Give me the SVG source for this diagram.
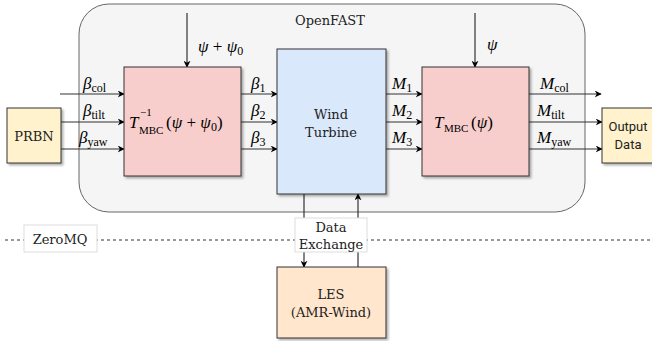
<svg xmlns="http://www.w3.org/2000/svg" width="652" height="341" viewBox="0 0 652 341">
<defs>
<marker id="ah" viewBox="0 0 10 10" refX="9" refY="5" markerWidth="7" markerHeight="7" markerUnits="userSpaceOnUse" orient="auto"><path d="M0,0 L10,5 L0,10 L3,5 Z" fill="#000"/></marker>
<filter id="sh" x="-10%" y="-10%" width="130%" height="130%"><feDropShadow dx="2" dy="2" stdDeviation="0.8" flood-color="#000" flood-opacity="0.3"/></filter>
</defs>
<style>
.box{stroke:#333;stroke-width:1;filter:url(#sh)}
.lbl{font-family:"DejaVu Serif","Liberation Serif",serif;font-size:13px;fill:#222;text-anchor:middle}
.sans{font-family:Roboto,"Liberation Sans",sans-serif;font-size:13px;fill:#222;text-anchor:middle}
.m{font-family:"Liberation Serif","DejaVu Serif",serif;font-style:italic;font-size:17px;fill:#000}
.r{font-style:normal}
.sub{font-family:"Liberation Serif","DejaVu Serif",serif;font-size:11px;fill:#000}
.ln{stroke:#333;stroke-width:1.2;fill:none;marker-end:url(#ah)}
</style>
<rect width="652" height="341" fill="#fff"/>
<g id="openfast">
<rect x="79" y="4" width="506" height="208" rx="30" ry="30" fill="#f5f5f5" stroke="#666" stroke-width="1"/>
<text class="lbl" x="330" y="25">OpenFAST</text>
</g>
<g id="zeromq-line">
<line x1="5" y1="240" x2="652" y2="240" stroke="#333" stroke-width="1" stroke-dasharray="3,3"/>
</g>
<g id="connectors">
<line class="ln" x1="187" y1="13" x2="187" y2="67"/>
<line class="ln" x1="475" y1="13" x2="475" y2="67"/>
<line class="ln" x1="60" y1="94" x2="124" y2="94"/>
<line class="ln" x1="61" y1="122" x2="124" y2="122"/>
<line class="ln" x1="61" y1="149" x2="124" y2="149"/>
<line class="ln" x1="241" y1="94" x2="277" y2="94"/>
<line class="ln" x1="241" y1="122" x2="277" y2="122"/>
<line class="ln" x1="241" y1="149" x2="277" y2="149"/>
<line class="ln" x1="386" y1="94" x2="422" y2="94"/>
<line class="ln" x1="386" y1="122" x2="422" y2="122"/>
<line class="ln" x1="386" y1="149" x2="422" y2="149"/>
<line class="ln" x1="529" y1="94" x2="601" y2="94"/>
<line class="ln" x1="529" y1="122" x2="602" y2="122"/>
<line class="ln" x1="529" y1="149" x2="602" y2="149"/>
<line class="ln" x1="304" y1="194" x2="304" y2="267"/>
<line class="ln" x1="358" y1="267" x2="358" y2="194"/>
</g>
<g id="prbn">
<rect class="box" x="7" y="108" width="54" height="55" fill="#fff2cc"/>
<text class="lbl" x="34" y="141">PRBN</text>
</g>
<g id="tinv">
<rect class="box" x="124" y="67" width="117" height="109" fill="#f8cecc"/>
<text class="m" x="129" y="128">T</text>
<text class="sub" x="140" y="116">−1</text>
<text class="sub" x="139" y="134">MBC</text>
<text class="m" x="166" y="128"><tspan class="r">(</tspan>ψ<tspan class="r"> + </tspan>ψ<tspan class="r" font-size="12" dy="3">0</tspan><tspan class="r" dy="-3">)</tspan></text>
</g>
<g id="turbine">
<rect class="box" x="277" y="49" width="109" height="145" fill="#dae8fc"/>
<text class="lbl" x="331" y="119">Wind</text>
<text class="lbl" x="331" y="137">Turbine</text>
</g>
<g id="tmbc">
<rect class="box" x="422" y="67" width="107" height="109" fill="#f8cecc"/>
<text class="m" x="434" y="128">T</text>
<text class="sub" x="444" y="132">MBC</text>
<text class="m" x="471" y="128"><tspan class="r">(</tspan>ψ<tspan class="r">)</tspan></text>
</g>
<g id="output">
<rect class="box" x="602" y="108" width="56" height="55" fill="#fff2cc"/>
<text class="sans" x="628" y="131">Output</text>
<text class="sans" x="628" y="149">Data</text>
</g>
<g id="les">
<rect class="box" x="277" y="267" width="109" height="71" fill="#ffe6cc"/>
<text class="lbl" x="331" y="299">LES</text>
<text class="lbl" x="331" y="317">(AMR-Wind)</text>
</g>
<g id="zeromq">
<rect x="24" y="225" width="73" height="27" fill="#fff" stroke="#ddd"/>
<text class="lbl" x="60" y="244">ZeroMQ</text>
</g>
<g id="dataexchange">
<rect x="295" y="218" width="72" height="34" fill="#fff" stroke="#ddd"/>
<text class="lbl" x="331" y="232">Data</text>
<text class="lbl" x="331" y="249">Exchange</text>
</g>
<g id="labels">
<text class="m" x="198" y="52">ψ<tspan class="r"> + </tspan>ψ<tspan class="r" font-size="12" dy="3">0</tspan></text>
<text class="m" x="487" y="50">ψ</text>
<text class="m" x="83" y="89">β<tspan class="r" font-size="12" dy="3">col</tspan></text>
<text class="m" x="83" y="116">β<tspan class="r" font-size="12" dy="3">tilt</tspan></text>
<text class="m" x="79" y="143">β<tspan class="r" font-size="12" dy="3">yaw</tspan></text>
<text class="m" x="251" y="89">β<tspan class="r" font-size="12" dy="3">1</tspan></text>
<text class="m" x="251" y="116">β<tspan class="r" font-size="12" dy="3">2</tspan></text>
<text class="m" x="251" y="143">β<tspan class="r" font-size="12" dy="3">3</tspan></text>
<text class="m" x="392" y="89">M<tspan class="r" font-size="12" dy="3">1</tspan></text>
<text class="m" x="392" y="116">M<tspan class="r" font-size="12" dy="3">2</tspan></text>
<text class="m" x="392" y="143">M<tspan class="r" font-size="12" dy="3">3</tspan></text>
<text class="m" x="540" y="89">M<tspan class="r" font-size="12" dy="3">col</tspan></text>
<text class="m" x="537" y="116">M<tspan class="r" font-size="12" dy="3">tilt</tspan></text>
<text class="m" x="537" y="143">M<tspan class="r" font-size="12" dy="3">yaw</tspan></text>
</g>
</svg>
